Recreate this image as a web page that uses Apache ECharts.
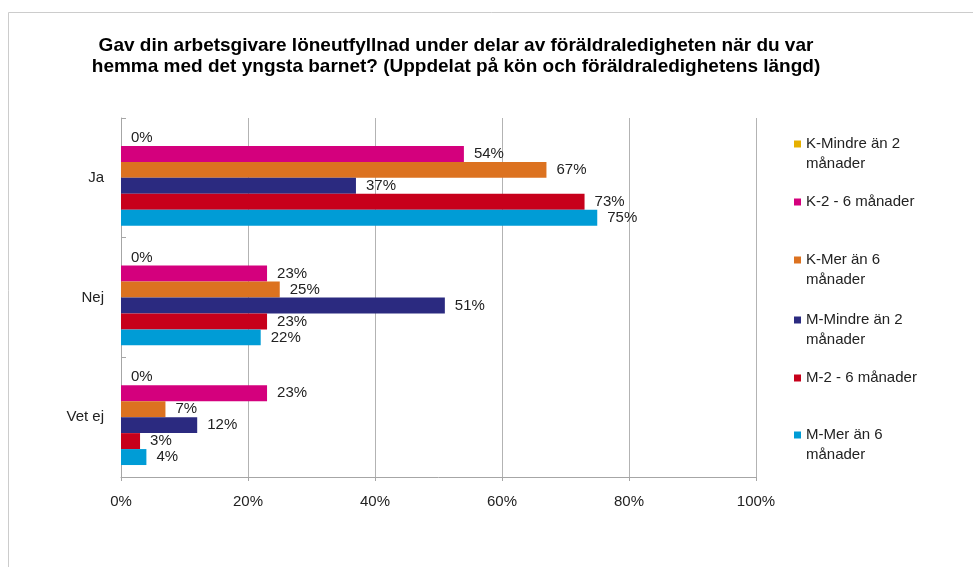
<!DOCTYPE html>
<html>
<head>
<meta charset="utf-8">
<script src="https://cdn.jsdelivr.net/npm/echarts@6/dist/echarts.min.js"></script>
<style>
  html, body { margin: 0; padding: 0; background: #fff; }
  #chart { width: 973px; height: 567px; }
</style>
</head>
<body>
<div id="chart"></div>
<script>
const categories = ["Ja", "Nej", "Vet ej"];
const seriesNames = [
    "K-Mindre än 2 månader",
    "K-2 - 6 månader",
    "K-Mer än 6 månader",
    "M-Mindre än 2 månader",
    "M-2 - 6 månader",
    "M-Mer än 6 månader",
];
const legendLabels = [
    "K-Mindre än 2\nmånader",
    "K-2 - 6 månader",
    "K-Mer än 6\nmånader",
    "M-Mindre än 2\nmånader",
    "M-2 - 6 månader",
    "M-Mer än 6\nmånader",
];
const kMindre2 = [0, 0, 0];
const k2till6 = [54, 23, 23];
const kMer6 = [67, 25, 7];
const mMindre2 = [37, 51, 12];
const m2till6 = [73, 23, 3];
const mMer6 = [75, 22, 4];
const xTicks = [0, 20, 40, 60, 80, 100];

const seriesData = [kMindre2, k2till6, kMer6, mMindre2, m2till6, mMer6];
const colors = ["#e6b000", "#d4007d", "#dc7220", "#2b2a80", "#c7001b", "#009cd6"];
const font = "'Liberation Sans', Arial, sans-serif";

// legend marker centres (y), one legend per entry like the Excel layout
const legendCentres = [144, 202, 260, 320, 378, 435];

const chart = echarts.init(document.getElementById("chart"));

chart.setOption({
    backgroundColor: "#fff",
    animation: false,
    title: {
        text: "Gav din arbetsgivare löneutfyllnad under delar av föräldraledigheten när du var\nhemma med det yngsta barnet? (Uppdelat på kön och föräldraledighetens längd)",
        left: 451,
        top: 30,
        textAlign: "center",
        textStyle: {
            fontFamily: font,
            fontSize: 19,
            fontWeight: "bold",
            color: "#000",
            lineHeight: 21,
        },
    },
    graphic: [
        {
            type: "rect",
            silent: true,
            shape: { x: 8.5, y: 12.5, width: 1000, height: 600 },
            style: { fill: "none", stroke: "#cccccc", lineWidth: 1 },
        },
    ],
    legend: legendLabels.map((label, i) => {
        const twoLines = label.indexOf("\n") >= 0;
        // a blank leading line keeps the marker level with the first text line
        const text = twoLines ? "\n" + label : label;
        return {
            data: [seriesNames[i]],
            left: 794,
            top: legendCentres[i] - (twoLines ? 30 : 10),
            icon: "rect",
            itemWidth: 7,
            itemHeight: 7,
            padding: 0,
            formatter: () => text,
            textStyle: {
                fontFamily: font,
                fontSize: 15,
                color: "#222",
                lineHeight: 20,
            },
        };
    }),
    grid: {
        left: 121,
        right: 217,
        top: 118,
        bottom: 90,
    },
    xAxis: {
        type: "value",
        min: xTicks[0],
        max: xTicks[xTicks.length - 1],
        interval: 20,
        axisLabel: {
            formatter: "{value}%",
            fontFamily: font,
            fontSize: 15,
            color: "#222",
            margin: 17,
        },
        axisLine: { show: true, lineStyle: { color: "#a6a6a6" } },
        axisTick: { show: true, length: 4, lineStyle: { color: "#a6a6a6" } },
        splitLine: { show: true, lineStyle: { color: "#b3b3b3" } },
    },
    yAxis: {
        type: "category",
        data: categories,
        inverse: true,
        axisLabel: {
            fontFamily: font,
            fontSize: 15,
            color: "#222",
            margin: 17,
        },
        axisLine: { show: true, lineStyle: { color: "#a6a6a6" } },
        axisTick: { show: true, inside: true, length: 5, lineStyle: { color: "#a6a6a6" } },
        splitLine: { show: false },
    },
    series: seriesNames.map((name, i) => ({
        name,
        type: "bar",
        data: seriesData[i],
        barGap: "0%",
        barCategoryGap: "20%",
        itemStyle: { color: colors[i] },
        label: {
            show: true,
            position: "right",
            distance: 10,
            formatter: "{c}%",
            fontFamily: font,
            fontSize: 15,
            color: "#222",
        },
    })),
});
</script>
</body>
</html>
